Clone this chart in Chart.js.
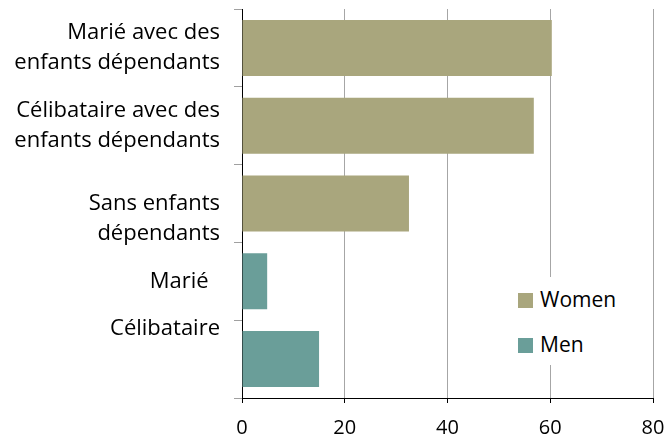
<!DOCTYPE html>
<html lang="fr">
<head>
    <meta charset="UTF-8">
    <title>Women / Men</title>
    <script src="https://cdn.jsdelivr.net/npm/chart.js"></script>
    <style>
        body { margin: 0; background: #fff; }
        .wrap { position: relative; width: 667px; height: 439px; }
        .legend {
            position: absolute; left: 508px; top: 277px; width: 138px; height: 88px;
            background: #fff; font-family: "Open Sans", sans-serif; font-size: 21px; color: #000;
        }
        .item { position: absolute; left: 10px; height: 24px; line-height: 24px; }
        .item span { display: inline-block; width: 15px; height: 15px; margin-right: 7px; vertical-align: -1px; }
    </style>
</head>
<body>
    <div class="wrap">
        <canvas id="chart" width="667" height="439"></canvas>
        <div class="legend">
            <div class="item" style="top: 10px;"><span style="background:#a9a67d"></span>Women</div>
            <div class="item" style="top: 55px;"><span style="background:#6a9e99"></span>Men</div>
        </div>
    </div>

    <script>
        // categories (multi-line labels as in the original, blank lines keep the offsets)
        const categories = [
            ["Marié avec des", "enfants dépendants"],
            ["Célibataire avec des", "enfants dépendants"],
            ["", "Sans enfants", "dépendants"],
            "Marié  ",
            ["Célibataire", "", ""]
        ];
        const women = [60.3, 56.8, 32.5, null, null];
        const men = [null, null, null, 4.9, 15.0];
        const xMin = 0, xMax = 80, xStep = 20;

        const font = { family: "'Open Sans', sans-serif", size: 22, lineHeight: "30px" };

        new Chart(document.getElementById("chart").getContext("2d"), {
            type: "bar",
            data: {
                labels: categories,
                datasets: [
                    { label: "Women", data: women, backgroundColor: "#a9a67d" },
                    { label: "Men", data: men, backgroundColor: "#6a9e99" }
                ]
            },
            options: {
                indexAxis: "y",
                responsive: false,
                animation: false,
                barPercentage: 0.72,
                categoryPercentage: 1,
                layout: { padding: { top: 9, right: 14, bottom: 0, left: 0 } },
                plugins: { legend: { display: false }, tooltip: { enabled: false } },
                scales: {
                    x: {
                        min: xMin, max: xMax,
                        ticks: { stepSize: xStep, color: "#000", font: { family: font.family, size: 20 }, padding: 13 },
                        grid: { color: "#a6a6a6", tickColor: "#000", tickLength: 5 },
                        border: { color: "#000", width: 1 },
                        afterFit: s => { s.height = 41; s.paddingLeft = 0; s.paddingRight = 0; }
                    },
                    y: {
                        stacked: true,
                        ticks: { color: "#000", font: font, padding: 14, autoSkip: false },
                        grid: { drawOnChartArea: false, offset: true, color: "#a0a0a0", tickLength: 8 },
                        border: { color: "#000", width: 1 },
                        afterFit: s => { s.width = 242; s.paddingTop = 0; s.paddingBottom = 0; }
                    }
                }
            }
        });
    </script>
</body>
</html>
